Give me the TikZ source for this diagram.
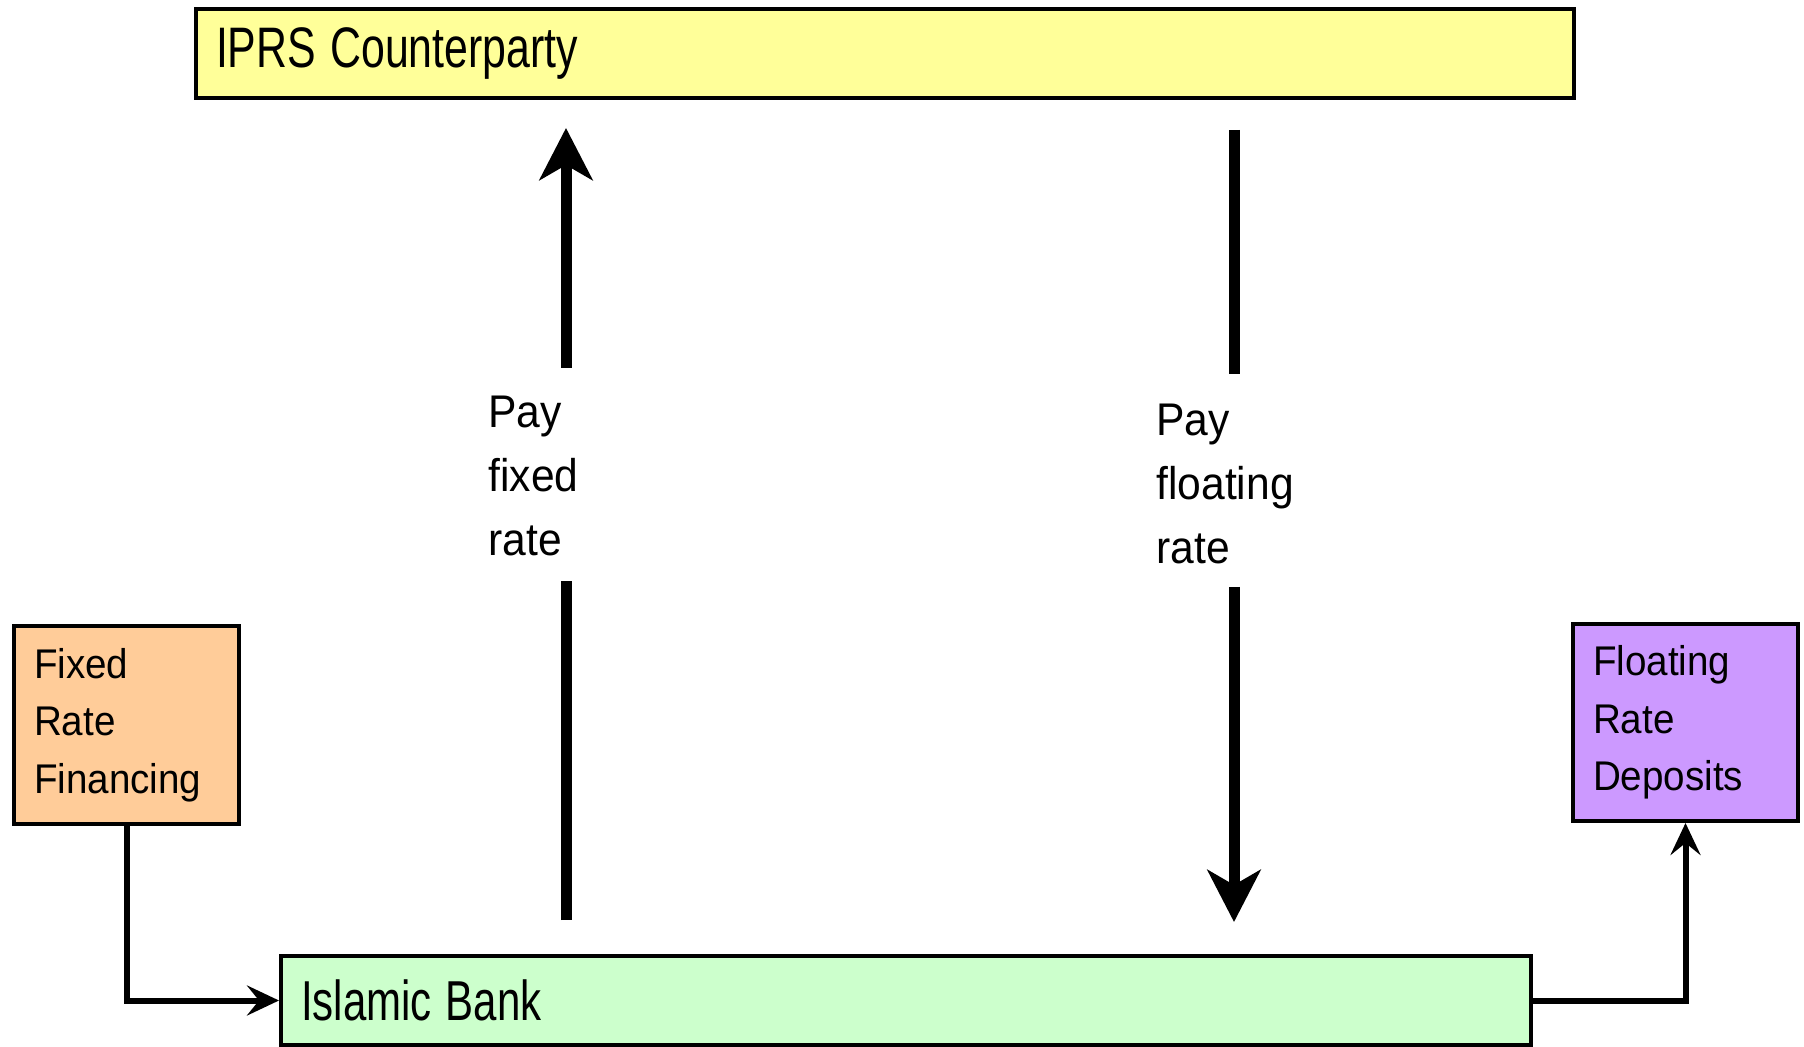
\documentclass[tikz,border=0pt]{standalone}
\usepackage{fontspec}
\setmainfont{Liberation Sans}
\newfontfamily\narrowfont{Liberation Sans}[FakeStretch=0.93]
\usepackage{graphicx}
\usetikzlibrary{arrows.meta}

\definecolor{iprsyellow}{HTML}{FFFF99}
\definecolor{bankgreen}{HTML}{CCFFCC}
\definecolor{finorange}{HTML}{FFCC99}
\definecolor{deppurple}{HTML}{CC99FF}

\begin{document}
\begin{tikzpicture}[x=0.5pt,y=-0.5pt,
  box/.style={draw, line width=2pt, inner xsep=10pt, inner ysep=0pt, align=left},
  bigfont/.style={font=\fontsize{21}{28}\selectfont},
  smallfont/.style={font=\narrowfont\fontsize{20.75}{28.75}\selectfont},
  lbl/.style={inner sep=0pt, align=left, font=\narrowfont\fontsize{22.9}{32}\selectfont},
  bigline/.style={line width=5.5pt},
  bigarrow/.style={line width=5.5pt,-{Stealth[length=26pt,width=26.5pt,inset=7.5pt]}},
  flow/.style={line width=3pt,-{Stealth[length=16pt,width=15pt,inset=6pt]}}]
\useasboundingbox (0,0) rectangle (1804,1047);

\node[box, bigfont, fill=iprsyellow, text width=669pt, minimum height=44.5pt] (iprs) at (885,53.5) {\raisebox{-1.5pt}{\scalebox{1.02}[1.36]{IPRS Counterparty}}};
\node[box, bigfont, fill=bankgreen, text width=605pt, minimum height=44.5pt] (bank) at (906,1000.5) {\scalebox{1}[1.34]{Islamic Bank}};

\node[box, smallfont, fill=finorange, text width=92.5pt, minimum height=99pt] (fixfin) at (126.5,725) {Fixed\\Rate\\Financing};
\node[box, smallfont, fill=deppurple, text width=92.5pt, minimum height=98.5pt] (fltdep) at (1685.5,722.5) {Floating\\Rate\\Deposits};

%\draw (frf) and (frd) links
\draw[flow] (fixfin.south) |- (bank.west);
\draw[flow] (bank.east) -| (fltdep.south);

\node[lbl, anchor=west] (paybank) at (488,476) {Pay\\fixed\\rate};
\node[lbl, anchor=west] (paycp) at (1156,484) {Pay\\floating\\rate};

\coordinate (fixbot) at (566,920);
\coordinate (fixmidlo) at (566,581);
\coordinate (fixmidhi) at (566,368);
\coordinate (fixtop) at (566,128);
\draw[bigline] (fixbot) -- (fixmidlo);
\draw[bigarrow] (fixmidhi) -- (fixtop);

\coordinate (flttop) at (1234,130);
\coordinate (fltmidhi) at (1234,374);
\coordinate (fltmidlo) at (1234,587);
\coordinate (fltbot) at (1234,922);
\draw[bigline] (flttop) -- (fltmidhi);
\draw[bigarrow] (fltmidlo) -- (fltbot);

\end{tikzpicture}
\end{document}
